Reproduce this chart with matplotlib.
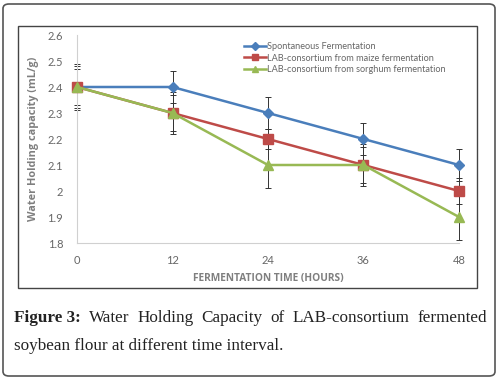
import numpy as np
import matplotlib
matplotlib.use("Agg")
import matplotlib.pyplot as plt
from matplotlib.patches import FancyBboxPatch, Rectangle

# data
hours = [0, 12, 24, 36, 48]
spont = [2.4, 2.4, 2.3, 2.2, 2.1]
maize = [2.4, 2.3, 2.2, 2.1, 2.0]
sorghum = [2.4, 2.3, 2.1, 2.1, 1.9]
spont_err = [0.07, 0.06, 0.06, 0.06, 0.06]
maize_err = [0.09, 0.07, 0.04, 0.08, 0.05]
sorghum_err = [0.08, 0.08, 0.09, 0.07, 0.09]
labels = ["Spontaneous Fermentation",
          "LAB-consortium from maize fermentation",
          "LAB-consortium from sorghum fermentation"]
xticks = [0, 12, 24, 36, 48]
yticks = [1.8, 1.9, 2.0, 2.1, 2.2, 2.3, 2.4, 2.5, 2.6]
ytick_labels = ["1.8", "1.9", "2", "2.1", "2.2", "2.3", "2.4", "2.5", "2.6"]

plt.rcParams['font.family'] = ['Lato', 'DejaVu Sans']

W, H = 499, 380
fig = plt.figure(figsize=(W/100, H/100), dpi=100)

# outer rounded frame and inner chart frame
outer = FancyBboxPatch((3/W, 4/H), 492/W, 372/H, boxstyle="round,pad=0,rounding_size=0.012",
                       transform=fig.transFigure, fill=False, ec="#555555", lw=1.2)
fig.patches.append(outer)
inner = Rectangle((18/W, 1-288/H), 459/W, 262/H, transform=fig.transFigure,
                  fill=False, ec="#444444", lw=1.0)
fig.patches.append(inner)

ax = fig.add_axes([77/W, 1-243/H, 382/W, 208/H])
gray = "#7f7f7f"
series = [(spont, spont_err, "#4a7ebb", "D", 5),
          (maize, maize_err, "#be4b48", "s", 6.5),
          (sorghum, sorghum_err, "#98b954", "^", 7.5)]
for (vals, err, col, mk, ms), lab in zip(series, labels):
    ax.plot(hours, vals, color=col, lw=1.8, marker=mk, ms=ms, label=lab, zorder=3, clip_on=False)
    eb = ax.errorbar(hours, vals, yerr=err, fmt="none", ecolor="#333333", elinewidth=0.7,
                     capsize=2.5, capthick=0.7, zorder=2)
    for a in eb.lines[1]:
        a.set_clip_on(False)
    for a in eb.lines[2]:
        a.set_clip_on(False)

ax.set_xlim(0, 48)
ax.set_ylim(1.8, 2.6)
ax.set_xticks(xticks)
ax.set_yticks(yticks)
ax.set_yticklabels(ytick_labels)
for s in ["top", "right"]:
    ax.spines[s].set_visible(False)
for s in ["left", "bottom"]:
    ax.spines[s].set_color("#d0d0d0")
ax.tick_params(length=0, labelsize=8, labelcolor="#666666")
ax.tick_params(axis="x", pad=9)
ax.tick_params(axis="y", pad=10)
ax.set_ylabel("Water Holding capacity (mL/g)", fontsize=7.8, fontweight="bold", color=gray,
              labelpad=6, family="Open Sans")
ax.set_xlabel("FERMENTATION TIME (HOURS)", fontsize=7.3, fontweight="bold", color=gray,
              labelpad=5, family="Open Sans")
ax.patch.set_alpha(0)

leg = ax.legend(loc="upper left", bbox_to_anchor=(0.42, 1.0), frameon=False, fontsize=6.6,
                handlelength=2.4, handletextpad=0.1, labelspacing=0.3, borderpad=0.25)
for t in leg.get_texts():
    t.set_color("#666666")
for h in leg.legend_handles:
    h.set_markersize(4.5)

# caption, justified first line
fig.canvas.draw()
r = fig.canvas.get_renderer()
cap_fs = 12.3
x0, x1 = 14, 487
words1 = [("Figure 3:", "bold"), ("Water", "normal"), ("Holding", "normal"),
          ("Capacity", "normal"), ("of", "normal"), ("LAB-consortium", "normal"),
          ("fermented", "normal")]
texts = []
total = 0
for w, wt in words1:
    t = fig.text(0, 1-322/H, w, fontsize=cap_fs, fontweight=wt, family="Liberation Serif", color="#222222")
    bb = t.get_window_extent(r)
    texts.append((t, bb.width))
    total += bb.width
gap = (x1 - x0 - total) / (len(words1) - 1)
x = x0
for t, w in texts:
    t.set_x(x/W)
    x += w + gap
fig.text(x0/W, 1-350/H, "soybean flour at different time interval.", fontsize=cap_fs,
         family="Liberation Serif", color="#222222")

fig.savefig("out.png", dpi=100)
